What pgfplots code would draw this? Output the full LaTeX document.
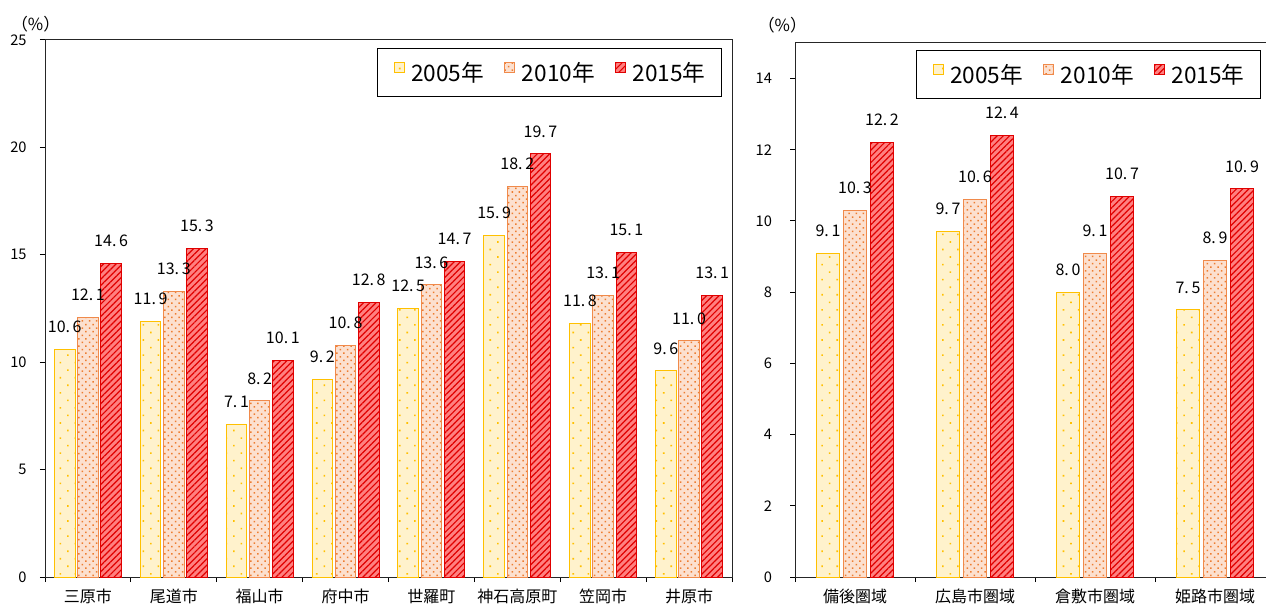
\documentclass[border=0pt]{standalone}
\usepackage{fontspec}
\setmainfont{Noto Sans CJK JP}
\usepackage{pgfplots}
\pgfplotsset{compat=1.18}
\usetikzlibrary{patterns,patterns.meta}

\definecolor{y05fill}{HTML}{FFF2CC}
\definecolor{y05line}{HTML}{FFC000}
\definecolor{o10fill}{HTML}{FCE0CF}
\definecolor{o10line}{HTML}{F08A4B}
\definecolor{o10dot}{HTML}{ED7D31}
\definecolor{r15fill}{HTML}{FF8080}
\definecolor{r15line}{HTML}{E00000}

\pgfplotsset{
  s05/.style={draw=y05line, fill=y05fill, line width=0.75pt,
    postaction={pattern={Dots[angle=45, distance=8pt, radius=0.85pt]}, pattern color=y05line}},
  s10/.style={draw=o10line, fill=o10fill, line width=0.75pt,
    postaction={pattern={Dots[angle=45, distance=3.8pt, radius=0.8pt]}, pattern color=o10dot}},
  s15/.style={draw=r15line, fill=r15fill, line width=0.75pt,
    postaction={pattern={Lines[angle=45, distance=3.3pt, line width=0.9pt]}, pattern color=r15line}},
  common/.style={
    scale only axis, anchor=south west, clip=false,
    ybar, ymin=0,
    axis line style={black!85, line width=0.75pt},
    tick style={black, line width=0.75pt},
    tick align=outside, tick pos=left,
    major tick length=3.75pt, minor tick length=3.75pt,
    major x tick style={draw=none},
    ticklabel style={font=\fontsize{11}{13}\selectfont},
    xticklabel style={font=\fontsize{12}{14}\selectfont, yshift=-1.5pt},
    /pgf/number format/assume math mode=true,
    nodes near coords,
    nodes near coords style={font=\fontsize{12}{14}\selectfont, anchor=south, inner sep=0pt, yshift=12pt,
      /pgf/number format/.cd, fixed, fixed zerofill, precision=1, set decimal separator={.\,}},
    legend columns=3,
    legend style={draw=black, line width=0.75pt, font=\fontsize{17}{20}\selectfont,
      inner xsep=12pt, inner ysep=10pt, nodes={inner sep=0pt},
      /tikz/every odd column/.append style={column sep=5pt},
      /tikz/every even column/.append style={column sep=15pt}},
    legend image code/.code={\draw[##1] (0pt,0.3pt) rectangle (7.5pt,7.8pt);},
  },
}

\begin{document}
\begin{tikzpicture}
\useasboundingbox (0pt,0pt) rectangle (949.5pt,453pt);

% left chart: municipalities
\begin{axis}[common,
  at={(33.75pt,20.25pt)}, width=515.25pt, height=402.75pt,
  xmin=-0.5, xmax=7.5, ymax=25, ytick={0,5,...,25},
  yticklabel style={xshift=-6.5pt},
  xtick={0,...,7},
  xticklabels={三原市,尾道市,福山市,府中市,世羅町,神石高原町,笠岡市,井原市},
  minor xtick={-0.5,0.5,...,7.5},
  bar width=0.24,
  legend style={at={(1,1)}, anchor=north east, xshift=-7.5pt, yshift=-6pt},
]
\addplot[s05, bar shift=-0.27] coordinates {(0,10.6)(1,11.9)(2,7.1)(3,9.2)(4,12.5)(5,15.9)(6,11.8)(7,9.6)};
\addplot[s10, bar shift=0] coordinates {(0,12.1)(1,13.3)(2,8.2)(3,10.8)(4,13.6)(5,18.2)(6,13.1)(7,11.0)};
\addplot[s15, bar shift=0.27] coordinates {(0,14.6)(1,15.3)(2,10.1)(3,12.8)(4,14.7)(5,19.7)(6,15.1)(7,13.1)};
\legend{2005年,2010年,2015年}
\node[font=\fontsize{12.5}{14}\selectfont, xshift=-7pt, yshift=12pt] at (rel axis cs:0,1) {（\%）};
\end{axis}

% right chart: regions
\begin{axis}[common,
  at={(596.25pt,20.25pt)}, width=360pt, height=400.5pt,
  xmin=-0.5, xmax=3.5, ymax=15, ytick={0,2,...,14},
  yticklabel style={xshift=-10pt},
  xtick={0,...,3},
  xticklabels={備後圏域,広島市圏域,倉敷市圏域,姫路市圏域},
  minor xtick={-0.5,0.5,...,3.5},
  bar width=0.19,
  legend style={at={(1,1)}, anchor=north east, xshift=-10.5pt, yshift=-5.25pt},
]
\addplot[s05, bar shift=-0.225] coordinates {(0,9.1)(1,9.7)(2,8.0)(3,7.5)};
\addplot[s10, bar shift=0] coordinates {(0,10.3)(1,10.6)(2,9.1)(3,8.9)};
\addplot[s15, bar shift=0.225] coordinates {(0,12.2)(1,12.4)(2,10.7)(3,10.9)};
\legend{2005年,2010年,2015年}
\node[font=\fontsize{12.5}{14}\selectfont, xshift=-9.5pt, yshift=13pt] at (rel axis cs:0,1) {（\%）};
\end{axis}
\end{tikzpicture}
\end{document}
